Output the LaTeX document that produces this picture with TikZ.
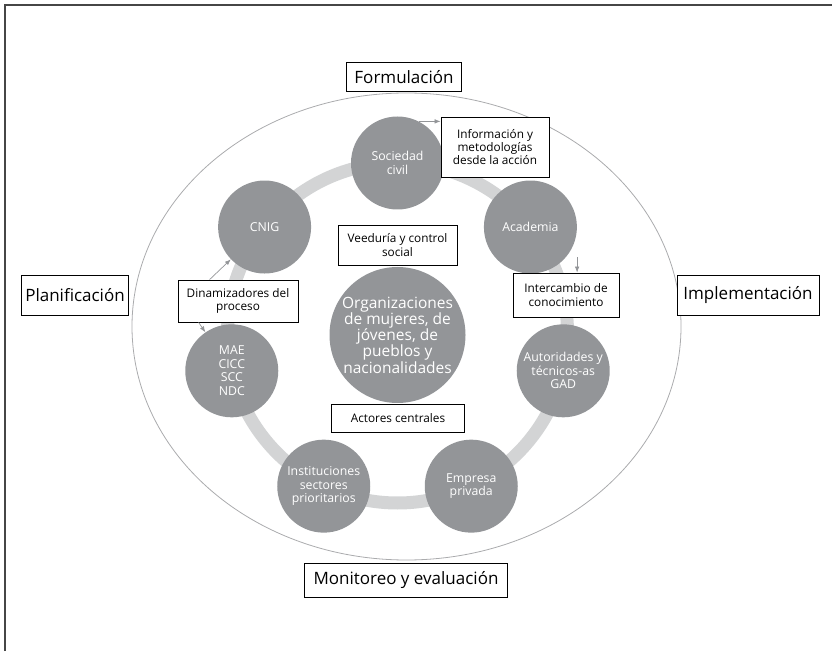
\documentclass[tikz,border=0pt]{standalone}
\usepackage{fontspec}
\setmainfont{Open Sans}
\usetikzlibrary{positioning,arrows.meta}
\definecolor{actorgray}{RGB}{147,149,152}
\definecolor{ringgray}{RGB}{211,212,213}
\definecolor{linegray}{RGB}{170,171,173}
\definecolor{framegray}{RGB}{70,70,70}
\tikzset{
  actor/.style={circle,fill=actorgray,text=white,minimum size=93pt,inner sep=0pt,
    align=center,font=\fontsize{12.3}{13.5}\selectfont},
  labelbox/.style={draw,fill=white,align=center,inner sep=2pt,line width=0.8pt,
    font=\fontsize{11.8}{13.3}\selectfont},
  phase/.style={draw,fill=white,inner sep=4pt,line width=0.8pt,
    font=\fontsize{17}{20}\selectfont},
  arr/.style={draw=actorgray,line width=0.7pt,-{Latex[length=6pt,width=4.5pt]}},
}
\begin{document}
\begin{tikzpicture}[x=1pt,y=1pt]
  \useasboundingbox (0,0) rectangle (832,651);
  % marco
  \draw[framegray,line width=1.5pt] (5,0) -- (5,646) -- (832,646);

  % elipse y anillo
  \coordinate (e0) at (406.5,324.5);
  \coordinate (r0) at (397.5,318);
  \draw[linegray,line width=0.8pt] (e0) ellipse [x radius=274.5,y radius=233.5];
  \draw[ringgray,line width=13pt] (r0) circle [radius=170];

  % actores en el anillo
  \foreach \n/\t [count=\i from 0] in {soc/Sociedad\\civil,aca/Academia,
      aut/Autoridades y\\técnicos-as\\GAD,emp/Empresa\\privada,
      ins/Instituciones\\sectores\\prioritarios,mae/MAE\\CICC\\SCC\\NDC,cnig/CNIG}
    \node[actor] (\n) at ([shift={(90-\i*360/7:170)}]r0) {\t};

  \node[actor,minimum size=136pt,font=\fontsize{15.5}{16.2}\selectfont] (org) at (397.5,316)
    {Organizaciones\\de mujeres, de\\jóvenes, de\\pueblos y\\nacionalidades};

  % etiquetas
  \node[labelbox,minimum width=119pt,minimum height=40pt] (vee) at (397.5,406) {Veeduría y control\\social};
  \node[labelbox,minimum width=133pt,minimum height=28pt] (act) at (398,233) {Actores centrales};
  \node[labelbox,minimum width=108pt,minimum height=60pt] (info) at (495,504) {Información y\\metodologías\\desde la acción};
  \node[labelbox,minimum width=106pt,minimum height=44pt] (inter) at (566,356) {Intercambio de\\conocimiento};
  \node[labelbox,minimum width=120pt,minimum height=42pt] (din) at (238,350) {Dinamizadores del\\proceso};

  % fases
  \node[phase,minimum width=115pt,minimum height=29pt] (form) at (404,574) {Formulación};
  \node[phase,minimum width=203pt,minimum height=34pt] (mon) at (406,71) {Monitoreo y evaluación};
  \node[phase,minimum width=106pt,minimum height=40pt] (plan) at (75,356) {Planificación};
  \node[phase,minimum width=142pt,minimum height=40pt] (impl) at (748,356) {Implementación};

  % flechas
  \draw[arr] (soc.63) -- (soc.63 -| info.west);
  \draw[arr] ([yshift=-30pt]aca.east) -- (aca.east |- inter.north);
  \draw[arr] ([xshift=32pt]din.north west) -- (cnig);
  \draw[arr] ([xshift=21pt]din.south west) -- (mae);
\end{tikzpicture}
\end{document}
